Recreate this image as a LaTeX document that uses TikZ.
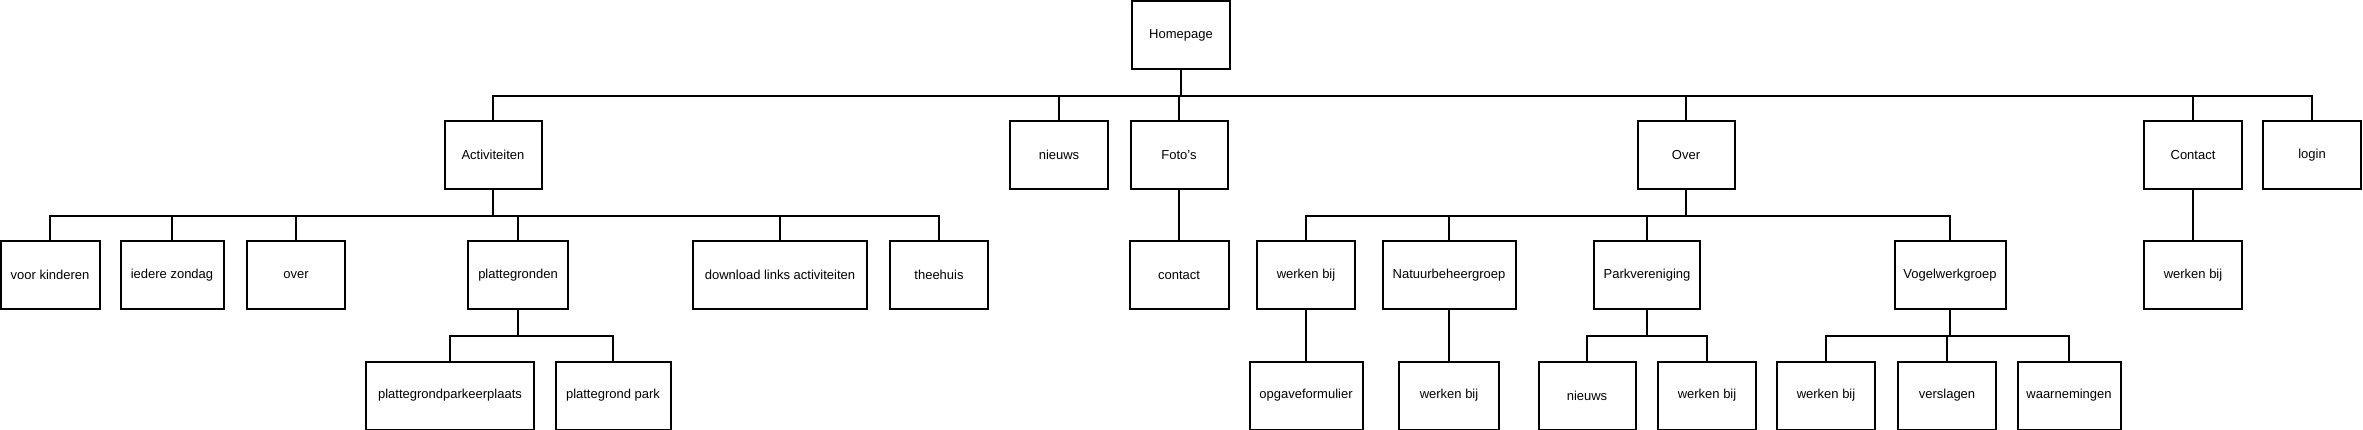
\documentclass[tikz,border=0pt]{standalone}
\usepackage{fontspec}
\setmainfont{Liberation Sans}
\begin{document}
\begin{tikzpicture}[x=1pt,y=-1pt,
  pg/.style={draw=black, fill=white, line width=2pt, inner sep=0pt,
    minimum height=68pt, font=\fontsize{13}{15}\selectfont},
  lnk/.style={line width=2pt, black}]
\useasboundingbox (0,0) rectangle (2363,430);
% level 0
\node[pg, minimum width=98pt] (home) at (1181,35) {Homepage};
% level 1
\node[pg, minimum width=97pt] (act) at (493,155) {Activiteiten};
\node[pg, minimum width=98pt] (nws) at (1059,155) {nieuws};
\node[pg, minimum width=97pt] (foto) at (1179,155) {Foto's};
\node[pg, minimum width=97pt] (over) at (1686,155) {Over};
\node[pg, minimum width=98pt] (cont) at (2193,155) {Contact};
\node[pg, minimum width=98pt] (login) at (2312,155) {login};
% level 2
\node[pg, minimum width=99pt] (kind) at (50,275) {voor kinderen};
\node[pg, minimum width=103pt] (zond) at (172,275) {iedere zondag};
\node[pg, minimum width=98pt] (aover) at (296,275) {over};
\node[pg, minimum width=100pt] (plat) at (518,275) {plattegronden};
\node[pg, minimum width=174pt] (dl) at (780,275) {download links activiteiten};
\node[pg, minimum width=98pt] (thee) at (939,275) {theehuis};
\node[pg, minimum width=99pt] (fcont) at (1179,275) {contact};
\node[pg, minimum width=98pt] (owerk) at (1306,275) {werken bij};
\node[pg, minimum width=133pt] (natu) at (1449,275) {Natuurbeheergroep};
\node[pg, minimum width=106pt] (park) at (1647,275) {Parkvereniging};
\node[pg, minimum width=111pt] (vogel) at (1950,275) {Vogelwerkgroep};
\node[pg, minimum width=98pt] (cwerk) at (2193,275) {werken bij};
% level 3
\node[pg, minimum width=168pt] (pparkeer) at (450,395.5) {plattegrondparkeerplaats};
\node[pg, minimum width=115pt] (ppark) at (613,395.5) {plattegrond park};
\node[pg, minimum width=113pt] (opgave) at (1306,395.5) {opgaveformulier};
\node[pg, minimum width=100pt] (nwerk) at (1449,395.5) {werken bij};
\node[pg, minimum width=97pt] (pnws) at (1587,395.5) {nieuws};
\node[pg, minimum width=98pt] (pwerk) at (1707,395.5) {werken bij};
\node[pg, minimum width=98pt] (vwerk) at (1826,395.5) {werken bij};
\node[pg, minimum width=98pt] (versl) at (1947,395.5) {verslagen};
\node[pg, minimum width=103pt] (waarn) at (2069,395.5) {waarnemingen};
% connectors
\foreach \c in {act,nws,foto,over,cont,login}
  \draw[lnk] (home.south) -- ++(0,26) -| (\c.north);
\foreach \c in {kind,zond,aover,plat,dl,thee}
  \draw[lnk] (act.south) -- ++(0,26) -| (\c.north);
\draw[lnk] (foto.south) -- (fcont.north);
\foreach \c in {owerk,natu,park,vogel}
  \draw[lnk] (over.south) -- ++(0,26) -| (\c.north);
\draw[lnk] (cont.south) -- (cwerk.north);
\foreach \c in {pparkeer,ppark}
  \draw[lnk] (plat.south) -- ++(0,26) -| (\c.north);
\draw[lnk] (owerk.south) -- (opgave.north);
\draw[lnk] (natu.south) -- (nwerk.north);
\foreach \c in {pnws,pwerk}
  \draw[lnk] (park.south) -- ++(0,26) -| (\c.north);
\foreach \c in {vwerk,versl,waarn}
  \draw[lnk] (vogel.south) -- ++(0,26) -| (\c.north);
\end{tikzpicture}
\end{document}
